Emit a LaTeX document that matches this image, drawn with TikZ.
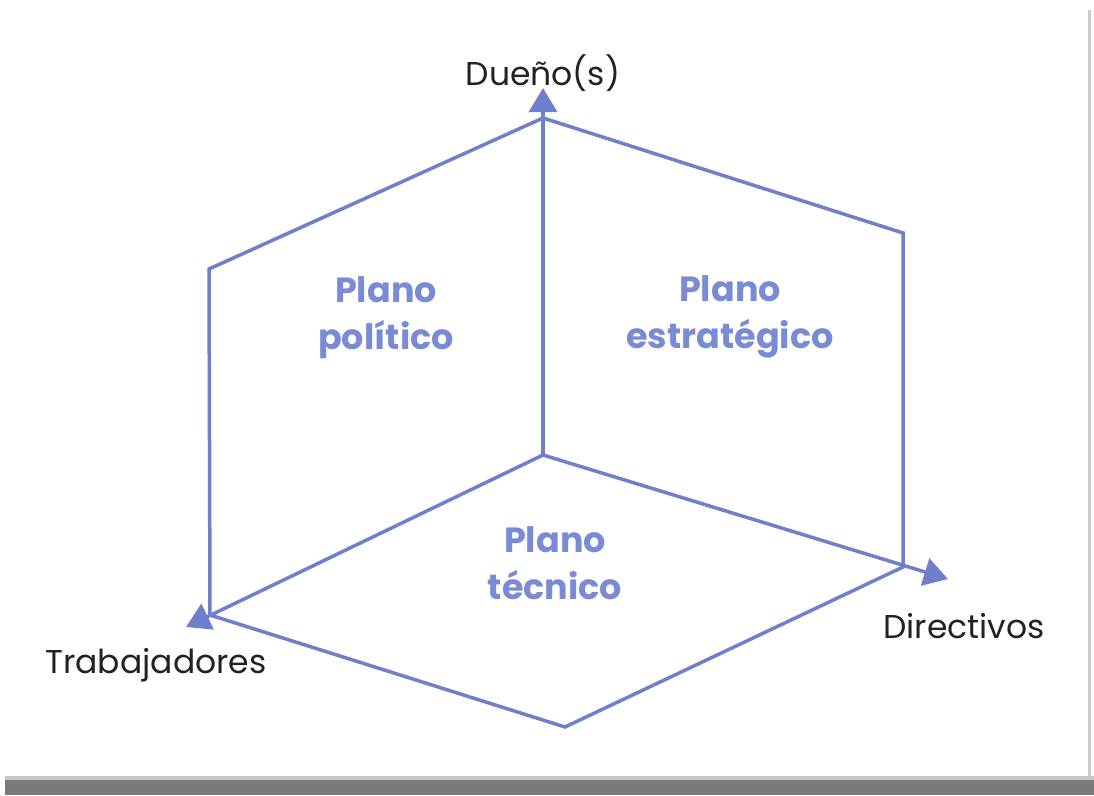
\documentclass[tikz,border=0pt]{standalone}
\usepackage{fontspec}
\setmainfont{Poppins}
\usetikzlibrary{arrows.meta}
\definecolor{lineblue}{HTML}{6F7FCB}
\definecolor{textblue}{HTML}{7A8BD6}
\definecolor{darktext}{HTML}{222222}
\definecolor{shadowgray}{HTML}{7A7A7A}
\tikzset{
  plane/.style={draw=lineblue, line width=3.5pt, line join=miter},
  axis/.style={plane, -{Triangle[length=24pt,width=28pt]}},
  planelabel/.style={text=textblue, font=\fontsize{35}{47}\selectfont\bfseries, align=center, inner sep=0pt},
  axislabel/.style={text=darktext, font=\fontsize{33}{40}\selectfont, inner sep=0pt, anchor=base}
}
\begin{document}
\begin{tikzpicture}[x=1pt,y=-1pt]
\useasboundingbox (0,0) rectangle (1094,795);
\fill[white] (0,0) rectangle (1094,795);
% page edge and bottom shadow
\fill[gray!40] (1088,10) rectangle (1091,782);
\fill[gray!45] (5,776) rectangle (1094,780);
\fill[shadowgray] (5,780) rectangle (1094,795);
% points
\coordinate (C) at (543,455);
\coordinate (Top) at (543,118);
\coordinate (LU) at (209,269);
\coordinate (RU) at (903,233);
\coordinate (T) at (210,615);
\coordinate (D) at (903,567);
\coordinate (B) at (565,727);
\coordinate (TopTip) at (543,88);
\coordinate (TTip) at (186,627);
\coordinate (DTip) at (948,579);
% planes
\draw[plane] (T) -- (LU) -- (Top) -- (RU) -- (D) -- (B) -- cycle;
% axes
\draw[axis] (C) -- (TopTip);
\draw[axis] (C) -- (TTip);
\draw[axis] (C) -- (DTip);
% labels
\node[axislabel] (lduen) at (543,85) {Dueño(s)};
\node[axislabel] (ltrab) at (156,673) {Trabajadores};
\node[axislabel] (ldir) at (964,638) {Directivos};
\node[planelabel] (lpol) at (386,318) {Plano\\político};
\node[planelabel] (lest) at (730,317) {Plano\\estratégico};
\node[planelabel] (ltec) at (555,563) {Plano\\técnico};
\end{tikzpicture}
\end{document}
